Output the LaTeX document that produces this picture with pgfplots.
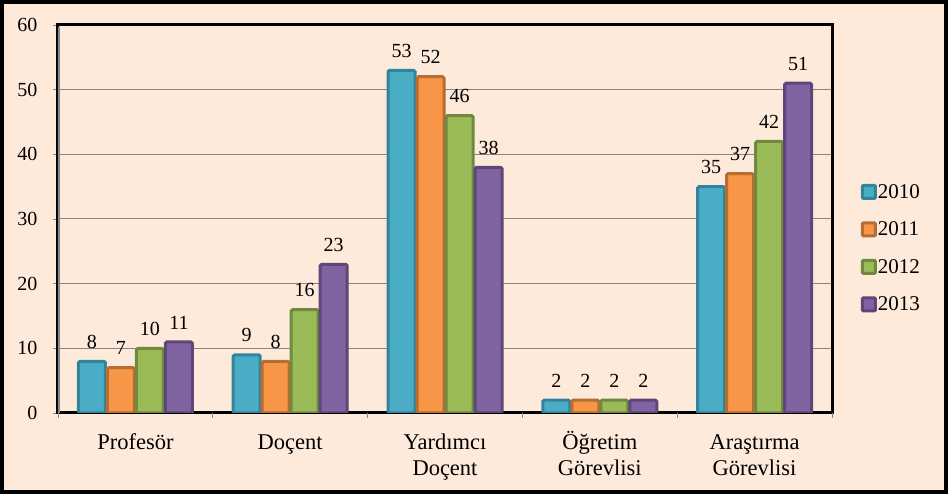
\documentclass[border=0pt]{standalone}
\usepackage{fontspec}
\setmainfont{Liberation Serif}
\usepackage{pgfplots}
\pgfplotsset{compat=1.18}
\definecolor{bg}{HTML}{FDEADA}
\definecolor{c1}{HTML}{4BACC6}\definecolor{d1}{HTML}{31849B}
\definecolor{c2}{HTML}{F79646}\definecolor{d2}{HTML}{B66D31}
\definecolor{c3}{HTML}{9BBB59}\definecolor{d3}{HTML}{71893F}
\definecolor{c4}{HTML}{8064A2}\definecolor{d4}{HTML}{5C4776}
\definecolor{gridc}{HTML}{868686}
\pgfplotsset{mylegend/.style={legend image code/.code={\draw[##1, line width=3pt, rounded corners=1pt] (1.5pt,-6.5pt) rectangle (14.5pt,6.5pt);}}}
\newcommand\HH{\rule{0pt}{20pt}}
\begin{document}
\begin{tikzpicture}
\fill[bg] (0,0) rectangle (948pt,494pt);
\begin{axis}[
  at={(58pt,81pt)}, anchor=south west, scale only axis,
  width=774pt, height=388pt,
  /pgf/number format/assume math mode=true,
  ybar=2pt, bar width=27pt,
  xmin=-0.5, xmax=4.5, ymin=0, ymax=60,
  ytick={0,10,...,60},
  xtick={0,...,4},
  xticklabels={{\HH Profesör}, {\HH Doçent}, {\HH Yardımcı\\Doçent}, {\HH Öğretim\\Görevlisi}, {\HH Araştırma\\Görevlisi}},
  x tick label style={align=center, font=\fontsize{22.5}{26}\selectfont, yshift=-7.5pt},
  y tick label style={font=\fontsize{20}{24}\selectfont, xshift=-12pt},
  tick align=outside, major tick length=5pt, tick pos=left,
  xtick style={draw=none},
  ytick style={draw=gridc, line width=0.8pt},
  extra x ticks={-0.5,0.5,...,4.5},
  extra x tick labels={},
  extra x tick style={xtick style={draw=gridc, line width=0.8pt}, grid=none, tick pos=left},
  ymajorgrids, grid style={gridc, line width=1pt},
  axis line style={black, line width=3pt},
  nodes near coords,
  every node near coord/.append style={font=\fontsize{20}{24}\selectfont, black, yshift=8pt},
  legend cell align=left,
  legend style={at={(1.037,0.425)}, anchor=west, draw=none, fill=none, inner sep=0pt,
    font=\fontsize{21}{24}\selectfont, row sep=20pt,
    nodes={inner sep=1pt},
    /tikz/every odd column/.append style={column sep=0pt}},
]
\addplot[fill=c1, draw=d1, line width=3pt, rounded corners=1.5pt, mylegend]
  coordinates {(0,8) (1,9) (2,53) (3,2) (4,35)};
\addplot[fill=c2, draw=d2, line width=3pt, rounded corners=1.5pt, mylegend]
  coordinates {(0,7) (1,8) (2,52) (3,2) (4,37)};
\addplot[fill=c3, draw=d3, line width=3pt, rounded corners=1.5pt, mylegend]
  coordinates {(0,10) (1,16) (2,46) (3,2) (4,42)};
\addplot[fill=c4, draw=d4, line width=3pt, rounded corners=1.5pt, mylegend]
  coordinates {(0,11) (1,23) (2,38) (3,2) (4,51)};
\legend{2010,2011,2012,2013}
\draw[gridc, line width=3.2pt] (rel axis cs:0,0) -- (rel axis cs:0,0.995);
\end{axis}
\draw[black, line width=4pt] (2pt,2pt) rectangle (946pt,492pt);
\pgfresetboundingbox
\useasboundingbox (0,0) rectangle (948pt,494pt);
\end{tikzpicture}
\end{document}
